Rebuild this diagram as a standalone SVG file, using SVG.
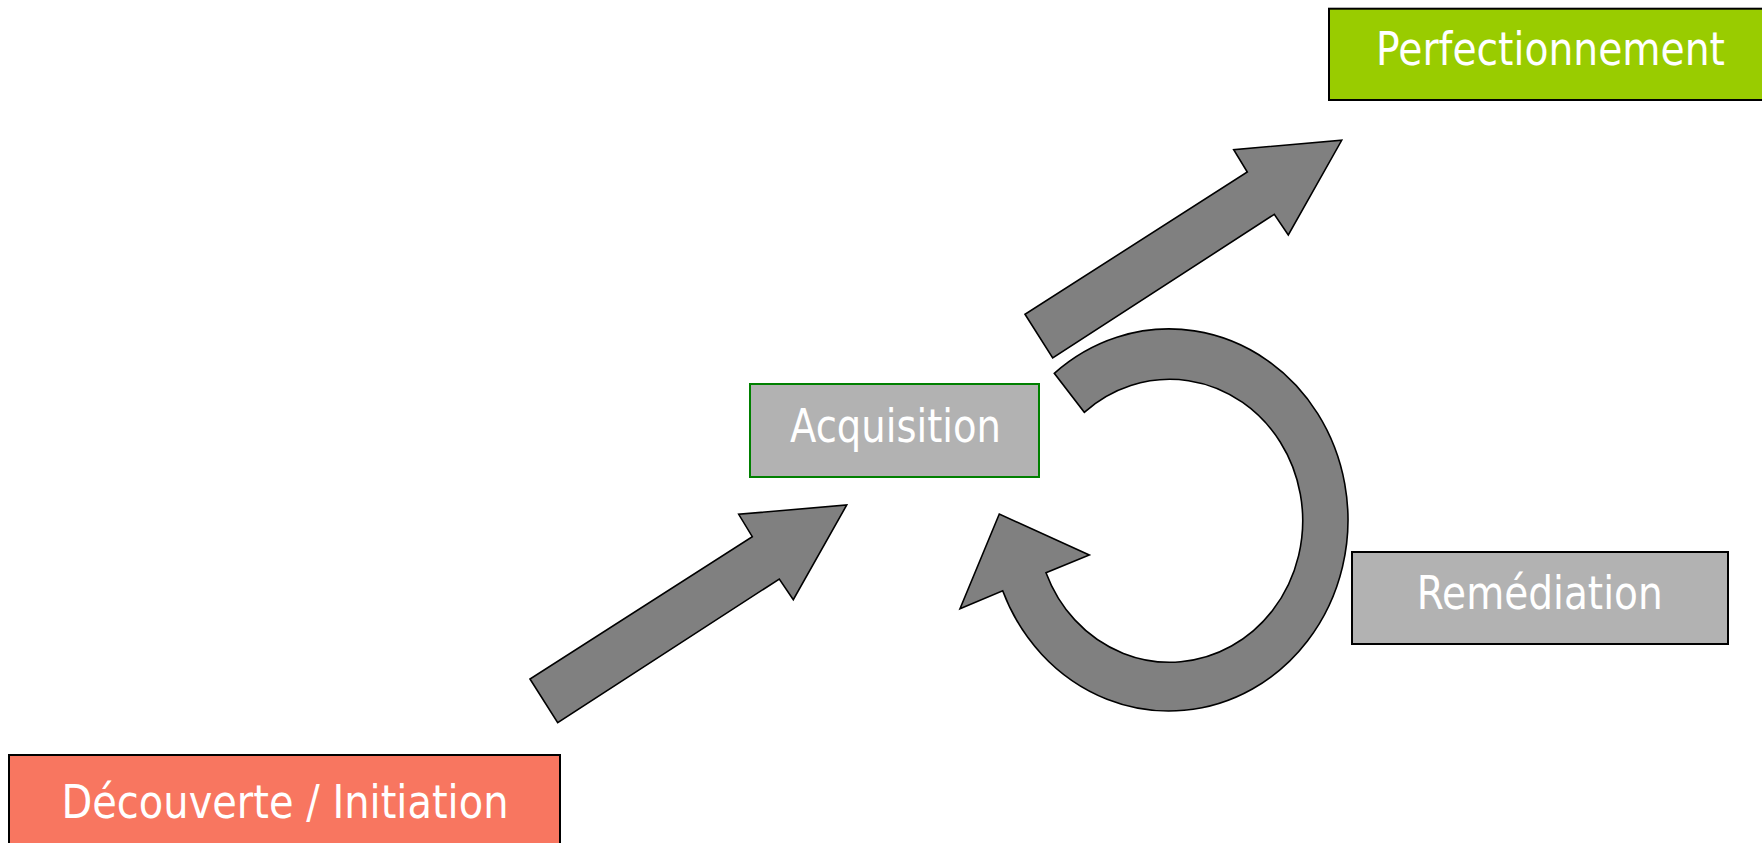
<svg xmlns="http://www.w3.org/2000/svg" width="1762" height="843" viewBox="0 0 1762 843">
<style>
  .lbl { font-family: "DejaVu Sans", "Liberation Sans", sans-serif; font-size: 47px; fill: #ffffff; text-anchor: middle; }
  .arrow { fill: #808080; stroke: #000000; stroke-width: 1.6; stroke-linejoin: miter; }
  .box { stroke-width: 2; }
</style>
<defs>
  <path id="straightArrow" d="M 530,679 L 557.7,722.7 L 779.3,579 L 793.3,599.7 L 846.7,505 L 738.7,514.3 L 752.3,536.7 Z"/>
</defs>
<rect width="1762" height="843" fill="#ffffff"/>
<g id="connectors">
  <use href="#straightArrow" class="arrow" id="arrow-decouverte-acquisition"/>
  <use href="#straightArrow" class="arrow" id="arrow-to-perfectionnement" transform="translate(495,-364.7)"/>
  <path id="arrow-remediation-loop" class="arrow" d="M 1054.3,373.3 A 179 191 0 1 1 1002.7,590.7 L 960,608.7 L 999.3,514 L 1089.3,555 L 1046,572.7 A 133 141.5 0 1 0 1084.3,412.3 Z"/>
</g>
<g id="node-perfectionnement">
  <rect class="box" x="1329" y="8.7" width="434" height="91.3" fill="#99CC00" stroke="#000000"/>
  <text class="lbl" x="1550.5" y="65" textLength="349" lengthAdjust="spacingAndGlyphs">Perfectionnement</text>
</g>
<g id="node-acquisition">
  <rect class="box" x="750" y="384" width="289" height="93" fill="#B2B2B2" stroke="#008000"/>
  <text class="lbl" x="895.5" y="441.7" textLength="211" lengthAdjust="spacingAndGlyphs">Acquisition</text>
</g>
<g id="node-remediation">
  <rect class="box" x="1352" y="552" width="376" height="92" fill="#B2B2B2" stroke="#000000"/>
  <text class="lbl" x="1539.7" y="609" textLength="246" lengthAdjust="spacingAndGlyphs">Remédiation</text>
</g>
<g id="node-decouverte">
  <rect class="box" x="9" y="755" width="551" height="100" fill="#F87660" stroke="#000000"/>
  <text class="lbl" x="285" y="817.5" font-size="52" textLength="447" lengthAdjust="spacingAndGlyphs">Découverte / Initiation</text>
</g>
</svg>
